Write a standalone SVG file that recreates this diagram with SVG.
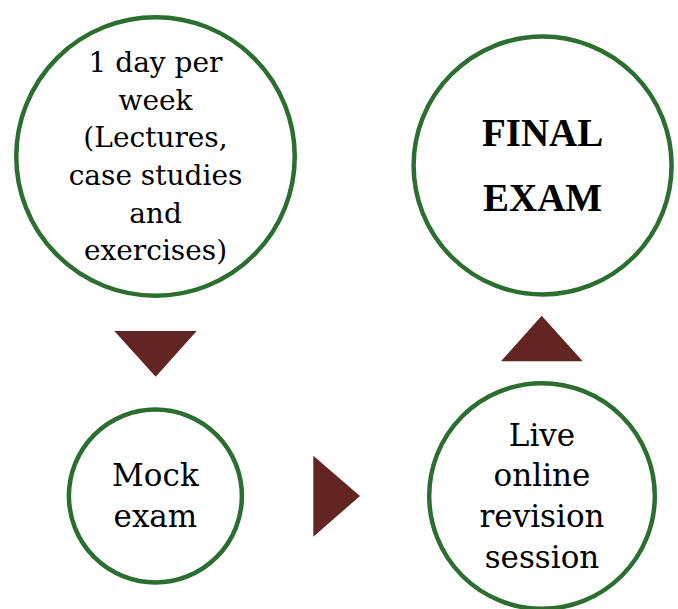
<svg xmlns="http://www.w3.org/2000/svg" width="678" height="609" viewBox="0 0 678 609">
<style>
.node circle{fill:#ffffff;stroke:#2B6E2F;stroke-width:4.5}
.t{font-family:"DejaVu Serif","Liberation Serif",serif;fill:#000;text-anchor:middle}
.s28{font-size:28px}
.s32{font-size:31px}
.b{font-family:"Liberation Serif","DejaVu Serif",serif;font-weight:bold;font-size:39px;fill:#000;text-anchor:middle}
.arrow{fill:#632523}
</style>
<rect width="678" height="609" fill="#ffffff"/>
<g id="node-weekly" class="node">
<circle cx="155.5" cy="156.5" r="139.25"/>
<text class="t s28" x="155.5" y="72">1 day per</text>
<text class="t s28" x="155.5" y="109.5">week</text>
<text class="t s28" x="155.5" y="147">(Lectures,</text>
<text class="t s28" x="155.5" y="185">case studies</text>
<text class="t s28" x="155.5" y="222.5">and</text>
<text class="t s28" x="155.5" y="260">exercises)</text>
</g>
<g id="node-final" class="node">
<circle cx="542.6" cy="165.5" r="129"/>
<text class="b" x="542.6" y="146">FINAL</text>
<text class="b" x="542.6" y="211">EXAM</text>
</g>
<g id="node-mock" class="node">
<circle cx="155.4" cy="496" r="86.5"/>
<text class="t s32" x="155.4" y="485.5">Mock</text>
<text class="t s32" x="155.4" y="527">exam</text>
</g>
<g id="node-revision" class="node">
<circle cx="542" cy="496" r="112.8"/>
<text class="t s32" x="542" y="446">Live</text>
<text class="t s32" x="542" y="486">online</text>
<text class="t s32" x="542" y="527">revision</text>
<text class="t s32" x="542" y="568">session</text>
</g>
<g id="connectors">
<polygon class="arrow" points="114.3,331 196.7,331 155.7,376.7"/>
<polygon class="arrow" points="313.3,455.7 313.3,536.7 360,496"/>
<polygon class="arrow" points="541.7,315.7 582.7,361.3 501,361.3"/>
</g>
</svg>
